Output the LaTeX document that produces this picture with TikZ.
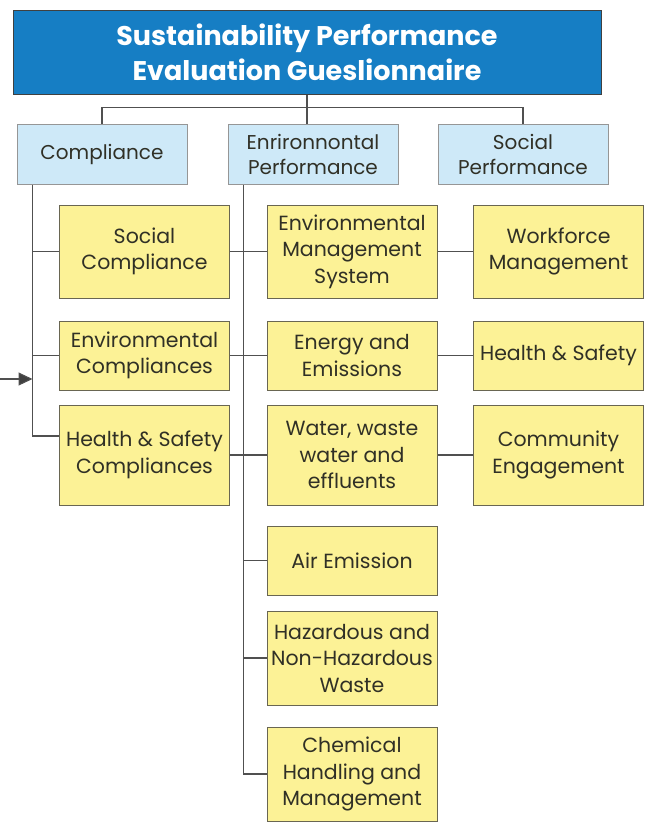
\documentclass[tikz,border=0pt]{standalone}
\usepackage{fontspec}
\setmainfont{Poppins}
\usetikzlibrary{arrows.meta,positioning}
\definecolor{titleblue}{RGB}{22,126,196}
\definecolor{paleblue}{RGB}{206,233,248}
\definecolor{paleyellow}{RGB}{252,242,150}
\definecolor{edge}{RGB}{105,102,82}
\definecolor{ink}{RGB}{48,48,38}
\definecolor{wire}{RGB}{80,80,80}
\tikzset{
  head/.style={draw=wire!80!black,fill=titleblue,text=white,line width=1pt,
    minimum width=588pt,minimum height=84pt,align=center,
    font=\fontsize{27}{35}\selectfont\bfseries},
  cat/.style={draw=wire!60,fill=paleblue,text=ink,line width=1pt,
    minimum width=170pt,minimum height=60pt,align=center,inner sep=1pt,
    font=\fontsize{20}{25}\selectfont},
  item/.style={draw=edge,fill=paleyellow,text=ink,line width=1pt,
    minimum width=#1,align=center,inner sep=1pt,
    font=\fontsize{20.5}{26.5}\selectfont},
  item/.default=170pt,
  link/.style={draw=wire,line width=1.1pt},
  feedarrow/.style={link,-{Triangle[length=14pt,width=13pt,fill=wire!80!black]}},
}
\begin{document}
\begin{tikzpicture}[x=1pt,y=-1pt]
  \useasboundingbox (0,0) rectangle (648,823);
  \node[head] (title) at (307,52) {Sustainability Performance\\Evaluation Gueslionnaire};
  \node[cat] (compl) at (102,154) {Compliance};
  \node[cat] (envperf) at (313,154) {Enrironnontal\\Performance};
  \node[cat] (socperf) at (523,154) {Social\\Performance};
  % compliance column
  \node[item,minimum height=93pt] (soccomp) at (144.5,251.5) {Social\\Compliance};
  \node[item,minimum height=69pt] (envcomp) at (144.5,355.5) {Environmental\\Compliances};
  \node[item,minimum height=100pt] (hscomp) at (144.5,455) {Health \& Safety\\Compliances};
  % environmental column
  \node[item,minimum height=93pt] (ems) at (352,251.5) {Environmental\\Management\\System};
  \node[item,minimum height=69pt] (energy) at (352,355.5) {Energy and\\Emissions};
  \node[item,minimum height=100pt] (water) at (352,455) {Water, waste\\water and\\effluents};
  \node[item,minimum height=69pt] (air) at (352,560.5) {Air Emission};
  \node[item,minimum height=94pt] (hazard) at (352,658) {Hazardous and\\Non-Hazardous\\Waste};
  \node[item,minimum height=94pt] (chem) at (352,774) {Chemical\\Handling and\\Management};
  % social column
  \node[item,minimum height=93pt] (workforce) at (558.5,251.5) {Workforce\\Management};
  \node[item,minimum height=69pt] (hs) at (558.5,355.5) {Health \& Safety};
  \node[item,minimum height=100pt] (community) at (558.5,455) {Community\\Engagement};

  \draw[link] (title.south) -- ++(0,13) coordinate (hub);
  \draw[link] (compl.north) |- (hub) -| (socperf.north);
  \draw[link] (hub) -- (hub |- envperf.north);

  \coordinate (cspine) at ([xshift=16pt]compl.south west);
  \draw[link] (cspine) |- ([yshift=19pt]hscomp.west);
  \draw[link] (cspine |- soccomp.west) -- (soccomp.west);
  \draw[link] (cspine |- envcomp.west) -- (envcomp.west);
  \coordinate (feed) at (0,379);
  \draw[feedarrow] (feed) -- (feed -| cspine);

  \coordinate (espine) at ([xshift=16pt]envperf.south west);
  \draw[link] (espine) |- (chem.west);
  \draw[link] (espine |- air.west) -- (air.west);
  \draw[link] (espine |- hazard.west) -- (hazard.west);

  \draw[link] (soccomp) -- (ems);
  \draw[link] (envcomp) -- (energy);
  \draw[link] (hscomp) -- (water);
  \draw[link] (ems) -- (workforce);
  \draw[link] (energy) -- (hs);
  \draw[link] (water) -- (community);
\end{tikzpicture}
\end{document}
